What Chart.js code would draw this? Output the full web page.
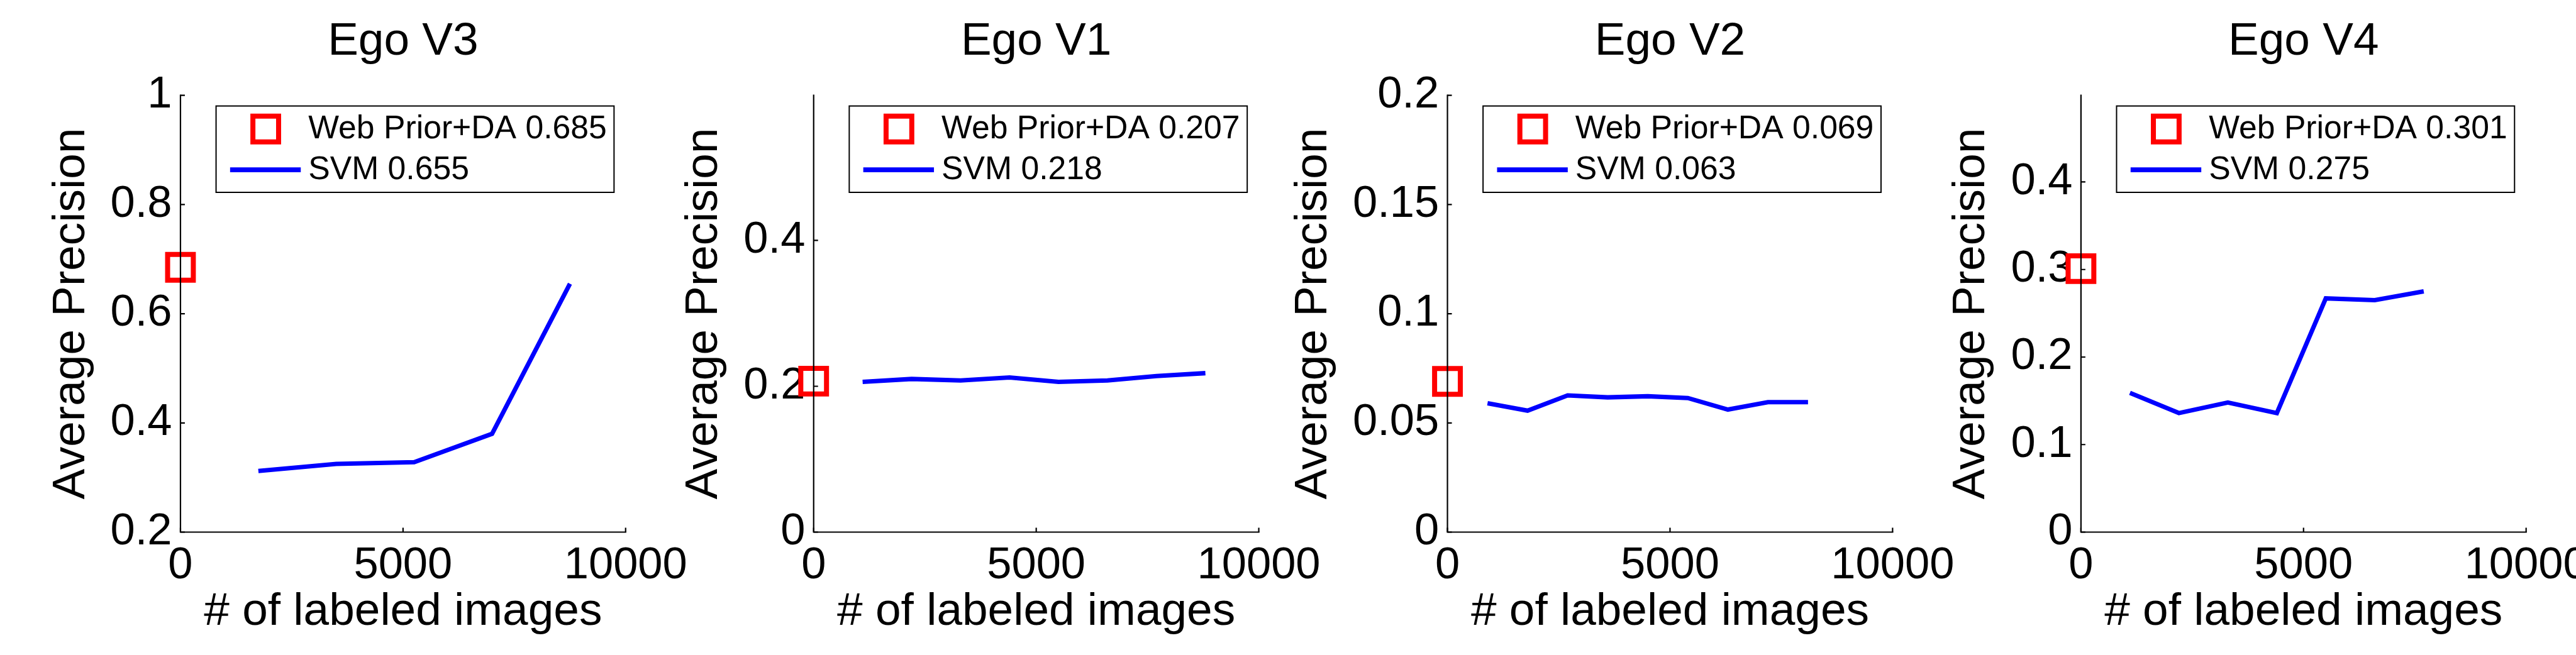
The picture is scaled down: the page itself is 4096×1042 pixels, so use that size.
<!DOCTYPE html>
<html>
<head>
<meta charset="utf-8">
<script src="https://cdn.jsdelivr.net/npm/chart.js@4.4.1/dist/chart.umd.min.js"></script>
<style>
html,body{margin:0;padding:0;background:#ffffff;overflow:hidden;}
#wrap{position:relative;width:4096px;height:1042px;background:#ffffff;}
#wrap canvas{position:absolute;left:0;top:0;}
</style>
</head>
<body>
<div id="wrap"></div>
<script>
// ---------------- data ----------------
const panelTitles = ['Ego V3', 'Ego V1', 'Ego V2', 'Ego V4'];
const seriesNames = ['Web Prior+DA', 'SVM'];
const xTitle = '# of labeled images';
const yTitle = 'Average Precision';

const xTicks = [0, 5000, 10000];
const xRange = [0, 10000];

const yTicksV3 = [0.2, 0.4, 0.6, 0.8, 1];
const yTicksV1 = [0, 0.2, 0.4];
const yTicksV2 = [0, 0.05, 0.1, 0.15, 0.2];
const yTicksV4 = [0, 0.1, 0.2, 0.3, 0.4];
const yRangeV3 = [0.2, 1];
const yRangeV1 = [0, 0.599];
const yRangeV2 = [0, 0.2];
const yRangeV4 = [0, 0.499];

const labeledV3 = [1750, 3500, 5250, 7000, 8750];
const svmV3 = [0.312, 0.325, 0.328, 0.380, 0.655];
const labeledV1 = [1100, 2200, 3300, 4400, 5500, 6600, 7700, 8800];
const svmV1 = [0.206, 0.210, 0.208, 0.212, 0.206, 0.208, 0.214, 0.218];
const labeledV2 = [900, 1800, 2700, 3600, 4500, 5400, 6300, 7200, 8100];
const svmV2 = [0.059, 0.0556, 0.0626, 0.0617, 0.0622, 0.0614, 0.0561, 0.0595, 0.0595];
const labeledV4 = [1100, 2200, 3300, 4400, 5500, 6600, 7700];
const svmV4 = [0.159, 0.136, 0.148, 0.136, 0.267, 0.265, 0.275];

const webPriorX = [0, 0, 0, 0];
const webPriorAP = [0.685, 0.207, 0.069, 0.301];
const svmAP = [0.655, 0.218, 0.063, 0.275];

// ---------------- layout / style ----------------
const S = 0.892;
const W = 4096, H = 1042;
const plotLefts = [321.7, 1450.4, 2580.2, 3709.5].map(v => v * S);
const plotW = 793.5 * S;
const plotTop = 170 * S;
const plotBottom = 949 * S;
const FONT = '"Liberation Sans", Helvetica, Arial, sans-serif';
const tickSize = 70.5, labelSize = 73, titleSize = 73, legendSize = 51.7;
const RED = '#ff0000', BLUE = '#0000ff';

const panels = [
  {xs: labeledV3, ys: svmV3, yTicks: yTicksV3, yRange: yRangeV3},
  {xs: labeledV1, ys: svmV1, yTicks: yTicksV1, yRange: yRangeV1},
  {xs: labeledV2, ys: svmV2, yTicks: yTicksV2, yRange: yRangeV2},
  {xs: labeledV4, ys: svmV4, yTicks: yTicksV4, yRange: yRangeV4}
];

const mctx = document.createElement('canvas').getContext('2d');
mctx.font = 'normal ' + tickSize + 'px ' + FONT;

const axesPlugin = {
  id: 'matlabAxes',
  afterDatasetsDraw(chart) {
    const {ctx, chartArea: ca, scales} = chart;
    const x = scales.x, y = scales.y;
    ctx.save();
    ctx.strokeStyle = '#000';
    ctx.lineWidth = 2.2;
    ctx.lineCap = 'square';
    ctx.beginPath();
    ctx.moveTo(ca.left, ca.top);
    ctx.lineTo(ca.left, ca.bottom);
    ctx.lineTo(ca.right, ca.bottom);
    ctx.stroke();
    ctx.lineCap = 'butt';
    ctx.beginPath();
    x.ticks.forEach(t => {
      const px = x.getPixelForValue(t.value);
      ctx.moveTo(px, ca.bottom); ctx.lineTo(px, ca.bottom - 7);
    });
    y.ticks.forEach(t => {
      const py = y.getPixelForValue(t.value);
      ctx.moveTo(ca.left, py); ctx.lineTo(ca.left + 7, py);
    });
    ctx.stroke();
    ctx.restore();
  }
};

const legendPlugin = {
  id: 'boxLegend',
  afterDatasetsDraw(chart) {
    const {ctx, chartArea: ca} = chart;
    const ds = chart.data.datasets;
    const bx = ca.left + 56.6, by = ca.top + 17;
    const bw = ca.right - 18.4 - bx, bh = 137.4;
    ctx.save();
    ctx.fillStyle = '#fff';
    ctx.fillRect(bx, by, bw, bh);
    ctx.strokeStyle = '#000';
    ctx.lineWidth = 2;
    ctx.strokeRect(bx, by, bw, bh);
    const r0 = by + 36.6, r1 = by + 101.5;
    // marker icon
    const side = ds[0].pointRadius * Math.SQRT2;
    ctx.fillStyle = ds[0].pointBackgroundColor;
    ctx.strokeStyle = ds[0].pointBorderColor;
    ctx.lineWidth = ds[0].pointBorderWidth;
    ctx.beginPath();
    ctx.rect(bx + 79 - side / 2, r0 - side / 2, side, side);
    ctx.fill(); ctx.stroke();
    // line icon
    ctx.strokeStyle = ds[1].borderColor;
    ctx.lineWidth = 7.8;
    ctx.beginPath();
    ctx.moveTo(bx + 22.3, r1); ctx.lineTo(bx + 134.7, r1);
    ctx.stroke();
    // text
    ctx.fillStyle = '#000';
    ctx.font = 'normal ' + legendSize + 'px ' + FONT;
    ctx.textBaseline = 'middle';
    ctx.textAlign = 'left';
    ctx.fillText(ds[0].label, bx + 146.7, r0 + 0.6);
    ctx.fillText(ds[1].label, bx + 146.7, r1 + 0.6);
    ctx.restore();
  }
};

const wrap = document.getElementById('wrap');

panels.forEach((p, i) => {
  const cv = document.createElement('canvas');
  cv.width = W; cv.height = H;
  cv.style.width = W + 'px'; cv.style.height = H + 'px';
  wrap.appendChild(cv);

  const plotLeft = plotLefts[i];
  const widest = Math.max(...p.yTicks.map(v => mctx.measureText(String(v)).width));
  const yTitleBaseline = plotLeft - 13.4 - widest - 36.8;
  const yTitleMiddle = yTitleBaseline - 0.3465 * labelSize;
  const yTitlePadTop = yTitleMiddle - labelSize / 2;

  new Chart(cv, {
    type: 'line',
    data: {
      datasets: [
        {
          label: seriesNames[0] + ' ' + webPriorAP[i].toFixed(3),
          data: [{x: webPriorX[i], y: webPriorAP[i]}],
          showLine: false,
          pointStyle: 'rect',
          pointRadius: 28.9,
          pointBorderWidth: 8,
          pointBorderColor: RED,
          pointBackgroundColor: '#ffffff',
          borderColor: RED,
          backgroundColor: '#ffffff',
          clip: false
        },
        {
          label: seriesNames[1] + ' ' + svmAP[i].toFixed(3),
          data: p.xs.map((x, j) => ({x: x, y: p.ys[j]})),
          borderColor: BLUE,
          backgroundColor: BLUE,
          borderWidth: 7.1,
          pointRadius: 0,
          tension: 0,
          fill: false,
          clip: false
        }
      ]
    },
    options: {
      responsive: false,
      animation: false,
      events: [],
      devicePixelRatio: 1,
      layout: {padding: {left: 0, top: 0, right: W - (plotLeft + plotW), bottom: 0}},
      plugins: {
        legend: {display: false},
        tooltip: {enabled: false},
        title: {
          display: true,
          text: panelTitles[i],
          fullSize: false,
          color: '#000',
          font: {family: FONT, size: titleSize, weight: 'normal', lineHeight: 1},
          padding: {top: 30.3, bottom: 48.3}
        }
      },
      scales: {
        x: {
          type: 'linear',
          min: xRange[0], max: xRange[1],
          afterBuildTicks: s => { s.ticks = xTicks.map(v => ({value: v})); },
          afterFit: s => { s.height = H - plotBottom; s.paddingLeft = 0; s.paddingRight = 0; },
          grid: {display: false, drawTicks: false},
          border: {display: false},
          ticks: {
            color: '#000', padding: 19, maxRotation: 0, minRotation: 0, autoSkip: false,
            font: {family: FONT, size: tickSize, weight: 'normal', lineHeight: 1},
            callback: v => String(v)
          },
          title: {
            display: true, text: xTitle, color: '#000',
            font: {family: FONT, size: labelSize, weight: 'normal', lineHeight: 1},
            padding: {top: 0, bottom: 32}
          }
        },
        y: {
          type: 'linear',
          min: p.yRange[0], max: p.yRange[1],
          afterBuildTicks: s => { s.ticks = p.yTicks.map(v => ({value: v})); },
          afterFit: s => { s.width = plotLeft; s.paddingTop = 0; s.paddingBottom = 0; },
          grid: {display: false, drawTicks: false},
          border: {display: false},
          ticks: {
            color: '#000', padding: 13.4, autoSkip: false,
            font: {family: FONT, size: tickSize, weight: 'normal', lineHeight: 1},
            callback: v => String(v)
          },
          title: {
            display: true, text: yTitle, color: '#000',
            font: {family: FONT, size: labelSize, weight: 'normal', lineHeight: 1},
            padding: {top: yTitlePadTop, bottom: 0}
          }
        }
      }
    },
    plugins: [axesPlugin, legendPlugin]
  });
});
</script>
</body>
</html>
